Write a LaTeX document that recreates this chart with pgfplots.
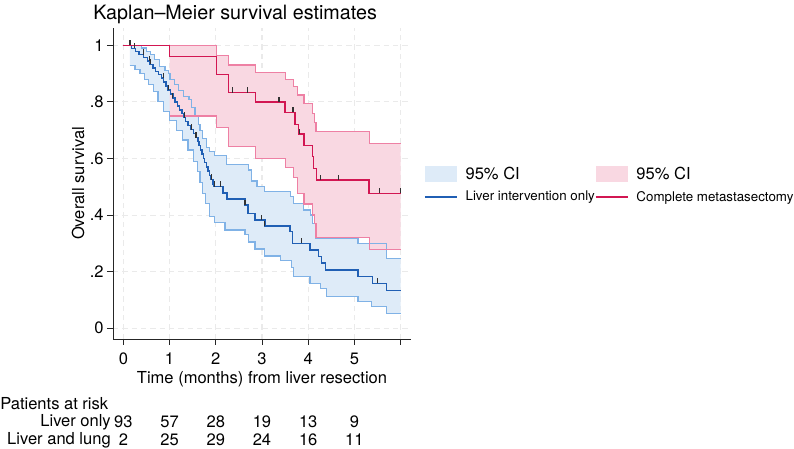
\documentclass[border=0pt]{standalone}
\usepackage{pgfplots}
\pgfplotsset{compat=1.18}
\usepgfplotslibrary{fillbetween}
\usepackage{pgfplotstable}
\usepackage{fontspec}
\setmainfont{TeX Gyre Heros}

\definecolor{bluefill}{RGB}{222,235,248}
\definecolor{pinkfill}{RGB}{249,216,226}
\definecolor{blueci}{RGB}{128,178,230}
\definecolor{pinkci}{RGB}{238,128,164}
\definecolor{bluekm}{RGB}{32,95,180}
\definecolor{redkm}{RGB}{210,22,82}
\definecolor{censc}{RGB}{50,50,50}
\definecolor{gridc}{RGB}{234,234,234}

\pgfplotsset{
  mylinelegend/.style={legend image code/.code={\draw[##1] (0pt,0pt) -- (24pt,0pt);}},
  myarealegend/.style={legend image code/.code={\fill[##1] (0pt,-6pt) rectangle (24pt,6pt);}},
}

\pgfdeclareplotmark{cens}{\pgfpathmoveto{\pgfqpoint{0pt}{0pt}}\pgfpathlineto{\pgfqpoint{0pt}{4pt}}\pgfusepathqstroke}

\pgfplotstableread{
x y
0.00 1.000
0.18 0.989
0.26 0.978
0.34 0.967
0.44 0.956
0.52 0.944
0.58 0.932
0.64 0.920
0.70 0.908
0.76 0.896
0.82 0.884
0.87 0.870
0.92 0.856
0.97 0.842
1.02 0.828
1.07 0.814
1.12 0.800
1.17 0.786
1.22 0.772
1.27 0.758
1.31 0.744
1.35 0.730
1.40 0.716
1.46 0.702
1.52 0.688
1.57 0.674
1.61 0.660
1.64 0.645
1.67 0.630
1.70 0.615
1.73 0.600
1.76 0.585
1.80 0.570
1.83 0.555
1.86 0.540
1.90 0.525
1.94 0.510
1.96 0.500
2.16 0.478
2.24 0.457
2.63 0.436
2.70 0.406
2.85 0.383
3.06 0.361
3.61 0.341
3.66 0.300
4.04 0.277
4.22 0.253
4.29 0.230
4.38 0.206
5.08 0.182
5.39 0.159
5.70 0.133
6.00 0.133
}\bluekmtab

\pgfplotstableread{
x y
0.14 1.000
0.40 0.990
0.50 0.978
0.58 0.968
0.68 0.950
0.79 0.925
0.90 0.910
0.97 0.900
1.01 0.880
1.10 0.860
1.20 0.840
1.30 0.820
1.42 0.807
1.48 0.780
1.55 0.750
1.62 0.720
1.66 0.700
1.72 0.670
1.80 0.640
1.87 0.624
1.98 0.610
2.24 0.580
2.70 0.559
2.78 0.520
2.89 0.500
3.06 0.483
3.61 0.465
3.68 0.442
3.90 0.418
4.05 0.400
4.10 0.371
4.15 0.318
5.08 0.300
5.70 0.247
6.00 0.247
}\blueuptab

\pgfplotstableread{
x y
0.14 0.928
0.25 0.915
0.36 0.900
0.45 0.880
0.55 0.860
0.65 0.836
0.75 0.800
0.86 0.765
1.00 0.735
1.15 0.700
1.28 0.665
1.40 0.630
1.51 0.590
1.60 0.555
1.66 0.515
1.71 0.477
1.77 0.440
1.87 0.395
1.98 0.375
2.20 0.347
2.63 0.330
2.70 0.305
2.85 0.280
3.06 0.255
3.40 0.240
3.64 0.215
3.68 0.182
4.04 0.159
4.26 0.141
4.40 0.112
5.08 0.094
5.37 0.076
5.70 0.053
6.00 0.053
}\bluelotab

\pgfplotstableread{
x y
0.00 1.000
1.00 0.960
2.02 0.897
2.27 0.833
2.86 0.800
3.50 0.763
3.71 0.720
3.79 0.686
3.91 0.645
4.09 0.606
4.12 0.565
4.18 0.524
5.32 0.477
6.00 0.477
}\redkmtab

\pgfplotstableread{
x y
1.00 1.000
2.02 0.964
2.27 0.930
2.86 0.905
3.50 0.878
3.69 0.854
3.76 0.824
3.91 0.795
4.09 0.760
4.13 0.727
4.17 0.695
5.32 0.654
6.00 0.654
}\reduptab

\pgfplotstableread{
x y
1.00 0.750
2.02 0.709
2.27 0.642
2.86 0.600
3.50 0.567
3.69 0.532
3.76 0.477
3.91 0.439
4.09 0.400
4.13 0.371
4.17 0.322
5.32 0.277
6.00 0.277
}\redlotab

\pgfplotstableread{
x y
0.13 1.000
0.16 1.000
0.24 0.989
0.43 0.967
0.56 0.944
0.58 0.932
0.86 0.884
0.97 0.842
1.07 0.814
1.33 0.744
1.48 0.702
1.57 0.674
1.91 0.525
1.98 0.500
2.11 0.500
2.63 0.436
2.99 0.383
3.06 0.361
3.86 0.300
5.50 0.159
}\bluecens

\pgfplotstableread{
x y
2.36 0.833
2.68 0.833
3.37 0.800
3.66 0.763
3.68 0.763
3.81 0.686
4.27 0.524
4.65 0.524
5.55 0.477
6.00 0.477
}\redcens

\pgfplotstableread{
x y n
0 -0.331 93
1 -0.331 57
2 -0.331 28
3 -0.331 19
4 -0.331 13
5 -0.331 9
}\riskliver

\pgfplotstableread{
x y n
0 -0.394 2
1 -0.394 25
2 -0.394 29
3 -0.394 24
4 -0.394 16
5 -0.394 11
}\risklung

\newcommand{\basefont}{\fontsize{12.4}{14}\selectfont}

\begin{document}
\begin{tikzpicture}
\begin{axis}[
  at={(0pt,0pt)}, anchor=south west,
  scale only axis, width=223.5pt, height=233.25pt,
  xmin=-0.225, xmax=6.225, ymin=-0.038, ymax=1.061,
  axis x line*=bottom, axis y line*=left,
  axis line style={line width=0.6pt, black!85},
  xtick={0,1,2,3,4,5,6}, xticklabels={0,1,2,3,4,5,{}},
  ytick={0,0.2,0.4,0.6,0.8,1}, yticklabels={0,.2,.4,.6,.8,1},
  tick align=outside, major tick length=4.5pt,
  tick style={line width=0.6pt, black!85},
  ticklabel style={font=\basefont},
  xticklabel style={yshift=-2.5pt},
  yticklabel style={xshift=1pt},
  xmajorgrids, ymajorgrids,
  major grid style={gridc, line width=0.8pt, dash pattern=on 4pt off 3pt},
  xlabel={Time (months) from liver resection},
  ylabel={Overall survival},
  label style={font=\basefont},
  xlabel style={at={(axis description cs:0.5,-0.1290)}, anchor=center},
  ylabel style={at={(axis description cs:-0.1174,0.5)}, anchor=center},
  clip=false,
  legend columns=2,
  legend cell align=left,
  legend style={at={(1.0436,0.556)}, anchor=north west, draw=none, fill=none,
    inner sep=0pt, outer sep=0pt, font=\basefont,
    row sep=6.75pt, column sep=0pt,
    nodes={inner sep=0pt},
    /tikz/every odd column/.append style={column sep=6pt}},
]
% blue CI
\addplot[forget plot, const plot, name path=bup, blueci, line width=0.9pt] table {\blueuptab};
\addplot[forget plot, const plot, name path=blo, blueci, line width=0.9pt] table {\bluelotab};
\addplot[forget plot, bluefill, draw=none] fill between[of=bup and blo];
\addplot[forget plot, const plot, blueci, line width=0.9pt] table {\blueuptab};
\addplot[forget plot, const plot, blueci, line width=0.9pt] table {\bluelotab};
% red CI
\addplot[forget plot, const plot, name path=rup, pinkci, line width=0.9pt] table {\reduptab};
\addplot[forget plot, const plot, name path=rlo, pinkci, line width=0.9pt] table {\redlotab};
\addplot[forget plot, pinkfill, draw=none] fill between[of=rup and rlo];
\addplot[forget plot, const plot, pinkci, line width=0.9pt] table {\reduptab};
\addplot[forget plot, const plot, pinkci, line width=0.9pt] table {\redlotab};
% KM lines
\addplot[forget plot, const plot, bluekm, line width=1.1pt] table {\bluekmtab};
\addplot[forget plot, const plot, redkm, line width=1.1pt] table {\redkmtab};
% censoring ticks
\addplot[forget plot, only marks, mark=cens, mark options={censc, line width=0.9pt}] table {\bluecens};
\addplot[forget plot, only marks, mark=cens, mark options={censc, line width=0.9pt}] table {\redcens};
% risk table numbers
\addplot[forget plot, draw=none, mark=none, nodes near coords, point meta=explicit symbolic,
  every node near coord/.style={anchor=center, inner sep=0pt, font=\basefont, text=black}]
  table[meta=n] {\riskliver};
\addplot[forget plot, draw=none, mark=none, nodes near coords, point meta=explicit symbolic,
  every node near coord/.style={anchor=center, inner sep=0pt, font=\basefont, text=black}]
  table[meta=n] {\risklung};
% legend
\addlegendimage{myarealegend, fill=bluefill, draw=none}
\addlegendentry{95\% CI}
\addlegendimage{myarealegend, fill=pinkfill, draw=none}
\addlegendentry{95\% CI}
\addlegendimage{mylinelegend, draw=bluekm, line width=1.2pt}
\addlegendentry{\fontsize{10}{12}\selectfont Liver intervention only}
\addlegendimage{mylinelegend, draw=redkm, line width=1.2pt}
\addlegendentry{\fontsize{10}{12}\selectfont Complete metastasectomy}
\end{axis}
\node[anchor=base west, inner sep=0pt, font=\fontsize{14.8}{17}\selectfont] at (-15pt,239.25pt) {Kaplan–Meier survival estimates};
\node[anchor=west, inner sep=0pt, font=\basefont] at (-84.75pt,-48.5pt) {Patients at risk};
\node[anchor=east, inner sep=0pt, font=\basefont] at (-1.5pt,-62.8pt) {Liver only};
\node[anchor=east, inner sep=0pt, font=\basefont] at (-1.5pt,-76pt) {Liver and lung};
\pgfresetboundingbox
\path[use as bounding box] (-84.75pt,-82.5pt) rectangle (510.75pt,254.25pt);
\end{tikzpicture}
\end{document}
